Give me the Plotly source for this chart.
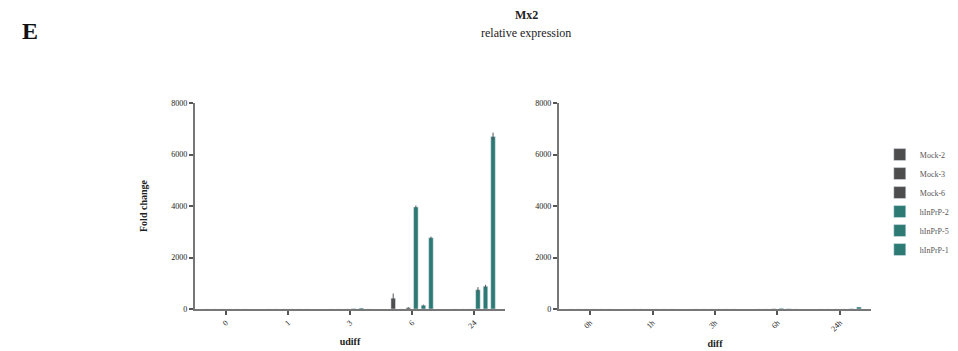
import plotly.graph_objects as go
from plotly.subplots import make_subplots

udiff_cats = ["0", "1", "3", "6", "24"]
diff_cats = ["0h", "1h", "3h", "6h", "24h"]
series = ["Mock-2", "Mock-3", "Mock-6", "hInPrP-2", "hInPrP-5", "hInPrP-1"]
colors = ["#4d4d4d", "#4d4d4d", "#4d4d4d", "#2d7a74", "#2d7a74", "#2d7a74"]

udiff_vals = {
    "Mock-2": [0, 0, 0, 420, 0],
    "Mock-3": [0, 0, 0, 0, 0],
    "Mock-6": [0, 0, 0, 50, 0],
    "hInPrP-2": [0, 0, 20, 3960, 750],
    "hInPrP-5": [0, 0, 40, 150, 880],
    "hInPrP-1": [0, 0, 0, 2770, 6700],
}
udiff_err = {
    "Mock-2": [0, 0, 0, 180, 0],
    "Mock-3": [0, 0, 0, 0, 0],
    "Mock-6": [0, 0, 0, 20, 0],
    "hInPrP-2": [0, 0, 0, 60, 100],
    "hInPrP-5": [0, 0, 0, 20, 60],
    "hInPrP-1": [0, 0, 0, 40, 150],
}
diff_vals = {
    "Mock-2": [0, 0, 0, 0, 0],
    "Mock-3": [0, 0, 0, 0, 0],
    "Mock-6": [0, 0, 0, 10, 0],
    "hInPrP-2": [0, 0, 0, 30, 0],
    "hInPrP-5": [0, 0, 0, 10, 10],
    "hInPrP-1": [0, 0, 0, 0, 80],
}

fig = make_subplots(rows=1, cols=2, horizontal_spacing=0.056)
fig.update_layout(barmode="group")

for s, c in zip(series, colors):
    fig.add_trace(go.Bar(
        x=udiff_cats, y=udiff_vals[s], name=s, marker_color=c,
        error_y=dict(type="data", array=udiff_err[s], color="#555", thickness=1, width=0),
    ), row=1, col=1)
    fig.add_trace(go.Bar(
        x=diff_cats, y=diff_vals[s], name=s, marker_color=c,
        showlegend=False,
    ), row=1, col=2)

axis_common = dict(showline=True, linecolor="#777", linewidth=2, ticks="outside",
                   tickcolor="#555", ticklen=4, tickwidth=1.5, showgrid=False,
                   zeroline=False, automargin=False,
                   tickfont=dict(family="Liberation Serif", size=8, color="#222"))

fig.update_xaxes(**axis_common, tickangle=-45, range=[-0.5, 4.5])
fig.update_yaxes(**axis_common, range=[0, 8000], tickvals=[0, 2000, 4000, 6000, 8000])

title_font = dict(family="Liberation Serif", size=10, color="#222")
fig.update_xaxes(domain=[0.195, 0.519], row=1, col=1,
                 title=dict(text="<b>udiff</b>", font=title_font, standoff=8))
fig.update_xaxes(domain=[0.575, 0.901], row=1, col=2,
                 title=dict(text="<b>diff</b>", font=title_font, standoff=8))
fig.update_yaxes(row=1, col=1,
                 title=dict(text="<b>Fold change</b>", font=title_font, standoff=22))

fig.update_layout(
    width=958, height=351,
    margin=dict(l=0, r=0, t=95, b=50, autoexpand=False),
    paper_bgcolor="white", plot_bgcolor="white",
    font=dict(family="Liberation Serif", color="#222"),
    bargap=0.27, bargroupgap=0.4,
    legend=dict(x=0.91, y=0.82, xanchor="left", yanchor="top",
                font=dict(family="Liberation Serif", size=8, color="#555"),
                itemwidth=30, tracegroupgap=0),
    showlegend=True,
)
fig.add_annotation(text="<b>E</b>", xref="paper", yref="paper", x=0.013, y=1.35,
                   xanchor="left", yanchor="middle", showarrow=False,
                   font=dict(family="Liberation Serif", size=24, color="#111"))
fig.add_annotation(text="<b>Mx2</b>", xref="paper", yref="paper", x=0.541, y=1.425,
                   xanchor="center", yanchor="middle", showarrow=False,
                   font=dict(family="Liberation Serif", size=12, color="#222"))
fig.add_annotation(text="relative expression", xref="paper", yref="paper", x=0.541, y=1.34,
                   xanchor="center", yanchor="middle", showarrow=False,
                   font=dict(family="Liberation Serif", size=12, color="#222"))

fig.write_html("out.html")
